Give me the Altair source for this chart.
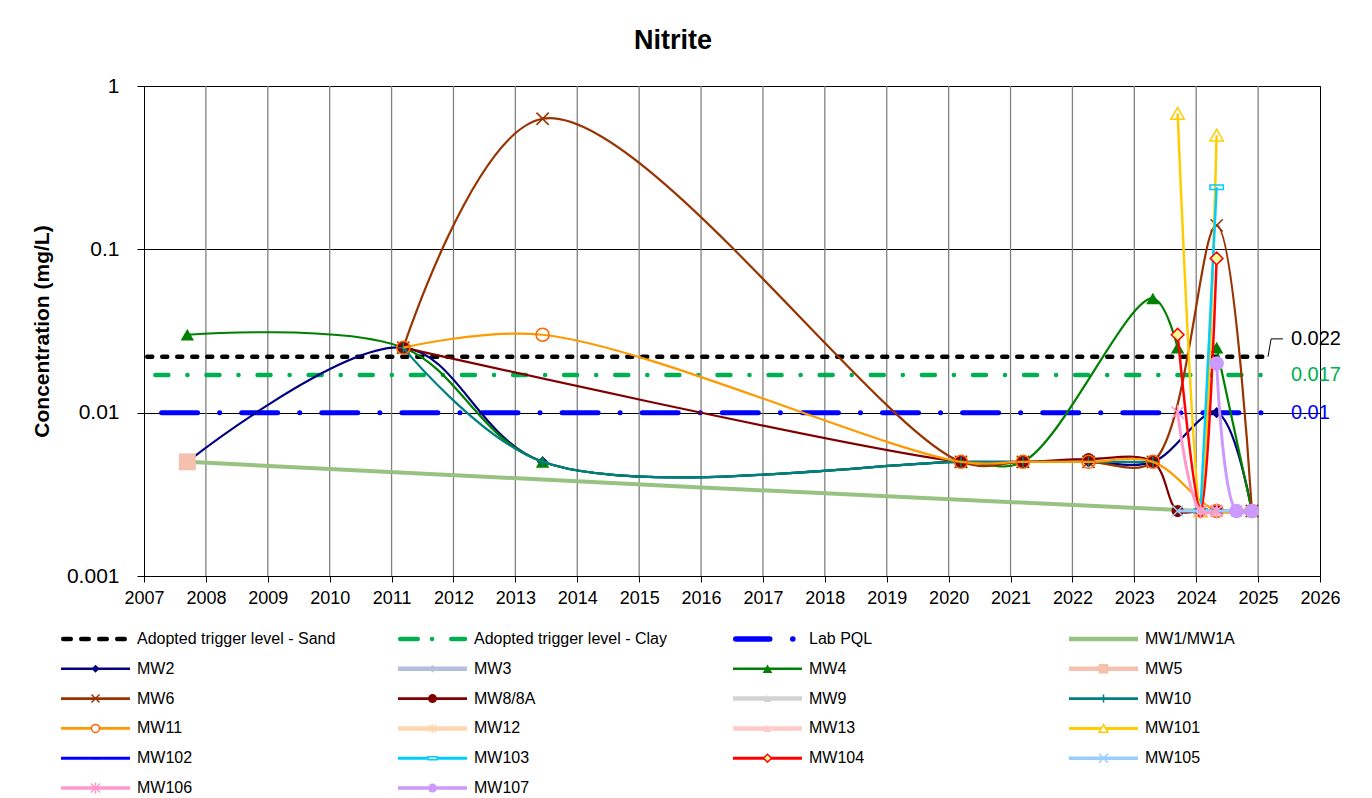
import altair as alt
import pandas as pd

FONT = "Liberation Sans"

# ---------------- data ----------------
YEARS = list(range(2007, 2027))
GRID_YEARS = list(range(2008, 2026))
Y_TICKS = [0.001, 0.01, 0.1, 1]

SAND = 0.022
CLAY = 0.017
PQL = 0.01
TRIGGER_X = [2007.0, 2025.16]
LABEL_X = 2025.53
LEADER_X = [2025.16, 2025.21, 2025.40]
LEADER_Y = [0.022, 0.0283, 0.0283]

MW1_X = [2007.7, 2024.07, 2024.33, 2024.65, 2024.9]
MW1_Y = [0.005, 0.0025, 0.0025, 0.0025, 0.0025]
MW2_X = [2007.7, 2011.19, 2013.44, 2020.2, 2021.2, 2022.26, 2023.3, 2024.33, 2024.9]
MW2_Y = [0.005, 0.025, 0.005, 0.005, 0.005, 0.005, 0.005, 0.01, 0.0025]
MW3_X = [2024.07, 2024.33]
MW3_Y = [0.0025, 0.0025]
MW4_X = [2007.7, 2011.19, 2013.44, 2020.2, 2021.2, 2023.3, 2023.7, 2024.33, 2024.9]
MW4_Y = [0.03, 0.025, 0.005, 0.005, 0.005, 0.05, 0.025, 0.025, 0.0025]
MW4_SEG = [0, 0, 0, 0, 0, 0, 0, 1, 1]
MW5_X = [2007.7]
MW5_Y = [0.005]
MW6_X = [2011.19, 2013.44, 2020.2, 2021.2, 2022.26, 2023.3, 2024.33, 2024.9]
MW6_Y = [0.025, 0.63, 0.005, 0.005, 0.005, 0.005, 0.14, 0.0025]
MW8_X = [2011.19, 2020.2, 2021.2, 2022.26, 2023.3, 2023.7, 2024.07, 2024.33]
MW8_Y = [0.025, 0.005, 0.005, 0.0052, 0.005, 0.0025, 0.0025, 0.0025]
MW9_X = [2024.07, 2024.33]
MW9_Y = [0.0025, 0.0025]
MW10_X = [2011.19, 2013.44, 2020.2, 2021.2, 2022.26, 2023.3]
MW10_Y = [0.025, 0.005, 0.005, 0.005, 0.005, 0.005]
MW11_X = [2011.19, 2013.44, 2020.2, 2021.2, 2022.26, 2023.3, 2024.33, 2024.9]
MW11_Y = [0.025, 0.03, 0.005, 0.005, 0.005, 0.005, 0.0025, 0.0025]
MW12_X = [2024.07, 2024.33]
MW12_Y = [0.0025, 0.0025]
MW13_X = [2024.07, 2024.33]
MW13_Y = [0.0025, 0.0025]
MW101_X = [2023.7, 2024.07, 2024.33]
MW101_Y = [0.68, 0.0025, 0.5]
MW102_X = [2024.07, 2024.33]
MW102_Y = [0.0025, 0.0025]
MW103_X = [2024.07, 2024.33]
MW103_Y = [0.0025, 0.24]
MW104_X = [2023.7, 2024.07, 2024.33]
MW104_Y = [0.03, 0.0025, 0.088]
MW105_X = [2023.7, 2024.07, 2024.33, 2024.65]
MW105_Y = [0.0025, 0.0025, 0.0025, 0.0025]
MW106_X = [2023.7, 2024.07, 2024.33]
MW106_Y = [0.01, 0.0025, 0.0025]
MW107_X = [2024.33, 2024.65, 2024.9]
MW107_Y = [0.02, 0.0025, 0.0025]

SERIES = [
    ("MW1/MW1A", MW1_X, MW1_Y, None),
    ("MW2", MW2_X, MW2_Y, None),
    ("MW3", MW3_X, MW3_Y, None),
    ("MW4", MW4_X, MW4_Y, MW4_SEG),
    ("MW5", MW5_X, MW5_Y, None),
    ("MW6", MW6_X, MW6_Y, None),
    ("MW8/8A", MW8_X, MW8_Y, None),
    ("MW9", MW9_X, MW9_Y, None),
    ("MW10", MW10_X, MW10_Y, None),
    ("MW11", MW11_X, MW11_Y, None),
    ("MW12", MW12_X, MW12_Y, None),
    ("MW13", MW13_X, MW13_Y, None),
    ("MW101", MW101_X, MW101_Y, None),
    ("MW102", MW102_X, MW102_Y, None),
    ("MW103", MW103_X, MW103_Y, None),
    ("MW104", MW104_X, MW104_Y, None),
    ("MW105", MW105_X, MW105_Y, None),
    ("MW106", MW106_X, MW106_Y, None),
    ("MW107", MW107_X, MW107_Y, None),
]

# ---------------- styles ----------------
X_PATH = "M-1,-1L1,1M-1,1L1,-1"
PLUS_PATH = "M-1,0L1,0M0,-1L0,1"
STAR_PATH = "M-1,-1L1,1M-1,1L1,-1M0,-1.25L0,1.25"
DASH_PATH = "M-1,-0.35L1,-0.35L1,0.35L-1,0.35Z"

# color, line width, shape, size, legend size, mode, marker fill, marker stroke
STYLE = {
    "MW1/MW1A": ("#98C282", 4.0, None, 0, 0, "none", None, None),
    "MW2": ("#000080", 2.2, "diamond", 130, 64, "fill", None, None),
    "MW3": ("#B4BFDE", 4.0, "diamond", 120, 56, "fill", None, None),
    "MW4": ("#008000", 2.2, "triangle-up", 180, 95, "fill", None, None),
    "MW5": ("#F5C1AF", 4.0, "square", 289, 95, "fill", None, None),
    "MW6": ("#993300", 2.2, X_PATH, 150, 64, "path", None, None),
    "MW8/8A": ("#800000", 2.2, "circle", 150, 81, "fill", None, None),
    "MW9": ("#D3D3D3", 4.0, "triangle-up", 150, 64, "fill", None, None),
    "MW10": ("#008080", 2.2, PLUS_PATH, 110, 64, "path", None, None),
    "MW11": ("#FF9900", 2.2, "circle", 170, 64, "open", None, "#FF6600"),
    "MW12": ("#FCD7B0", 4.0, STAR_PATH, 110, 56, "path", None, None),
    "MW13": ("#FFCACA", 4.0, "triangle-up", 150, 64, "fill", None, None),
    "MW101": ("#FFCC00", 2.5, "triangle-up", 180, 81, "open", None, "#FFCC00"),
    "MW102": ("#0000FF", 2.5, DASH_PATH, 100, 25, "fill", None, None),
    "MW103": ("#00CCFF", 2.5, DASH_PATH, 180, 81, "open", None, "#00CCFF"),
    "MW104": ("#FF0000", 2.5, "diamond", 160, 64, "open", "#FFFF99", "#FF0000"),
    "MW105": ("#99CCFF", 3.0, X_PATH, 110, 81, "path", None, None),
    "MW106": ("#FF99CC", 3.0, STAR_PATH, 150, 81, "path", None, None),
    "MW107": ("#CC99FF", 3.0, "circle", 210, 81, "fill", None, None),
}

X_AXIS = alt.Axis(values=YEARS, format="d", grid=False, domainColor="black",
                  tickColor="black", tickSize=6, labelFontSize=18, labelFont=FONT,
                  labelColor="black", labelPadding=7, title=None, labelFlush=False,
                  labelOverlap=False)
Y_AXIS = alt.Axis(values=Y_TICKS, format="~g", grid=True, gridColor="black", gridWidth=1,
                  domainColor="black", tickColor="black", tickSize=7, labelFontSize=21,
                  labelFont=FONT, labelColor="black", labelPadding=18,
                  title="Concentration (mg/L)", titleFont=FONT, titleFontSize=21,
                  titleFontWeight="bold", titleColor="black", titlePadding=14,
                  labelFlush=False)
X_SCALE = alt.Scale(domain=[2007, 2026], nice=False, zero=False)
Y_SCALE = alt.Scale(type="log", domain=[0.001, 1], nice=False)


def X():
    return alt.X("date:Q", scale=X_SCALE, axis=X_AXIS)


def Y():
    return alt.Y("value:Q", scale=Y_SCALE, axis=Y_AXIS)


layers = []

# vertical grid lines
grid_df = pd.DataFrame({"date": GRID_YEARS})
layers.append(alt.Chart(grid_df).mark_rule(color="#808080", strokeWidth=1.3).encode(x=X()))

# trigger lines
TRIGGERS = [
    (SAND, "black", 4.5, [5, 10], 11.75),
    (CLAY, "#00B050", 4.5, [13, 19, 0.1, 19], 39.75),
    (PQL, "#0000FF", 5.0, [36, 22, 0.1, 22], 62.5),
]
for val, col, w, dash, off in TRIGGERS:
    df = pd.DataFrame({"date": TRIGGER_X, "value": [val, val]})
    layers.append(alt.Chart(df).mark_line(color=col, strokeWidth=w, strokeDash=dash,
                                          strokeDashOffset=off, strokeCap="round").encode(x=X(), y=Y()))

# series
for name, xs, ys, seg in SERIES:
    color, w, shape, size, lsize, mode, mfill, mstroke = STYLE[name]
    df = pd.DataFrame({"date": xs, "value": ys, "seg": seg if seg else [0] * len(xs)})
    if len(xs) > 1:
        layers.append(alt.Chart(df).mark_line(color=color, strokeWidth=w, interpolate="catmull-rom",
                                              strokeCap="butt").encode(x=X(), y=Y(), detail="seg:N"))
    if shape is None:
        continue
    if mode == "fill":
        pm = alt.Chart(df).mark_point(shape=shape, size=size, filled=True, color=color, opacity=1)
    elif mode == "open":
        kw = dict(shape=shape, size=size, stroke=mstroke, strokeWidth=1.5, opacity=1)
        if mfill:
            pm = alt.Chart(df).mark_point(filled=True, fill=mfill, **kw)
        else:
            pm = alt.Chart(df).mark_point(filled=False, **kw)
    else:
        pm = alt.Chart(df).mark_point(shape=shape, size=size, filled=False, stroke=color,
                                      strokeWidth=1.5, opacity=1)
    layers.append(pm.encode(x=X(), y=Y()))

# trigger labels
LABELS = [("0.022", SAND, "black", -18), ("0.017", CLAY, "#00B050", 0), ("0.01", PQL, "#0000FF", 0)]
for txt, val, col, dy in LABELS:
    df = pd.DataFrame({"date": [LABEL_X], "value": [val], "t": [txt]})
    layers.append(alt.Chart(df).mark_text(align="left", baseline="middle", fontSize=20, font=FONT,
                                          color=col, dy=dy).encode(x=X(), y=Y(), text="t:N"))
leader_df = pd.DataFrame({"date": LEADER_X, "value": LEADER_Y})
layers.append(alt.Chart(leader_df).mark_line(color="black", strokeWidth=1).encode(x=X(), y=Y()))

main = alt.layer(*layers).properties(
    width=1176, height=490,
    title=alt.TitleParams("Nitrite", fontSize=27, font=FONT, fontWeight="bold", color="black",
                          anchor="middle", dx=-59, offset=20),
    view=alt.ViewBackground(stroke="black", strokeWidth=1),
)

# ---------------- legend ----------------
LEGEND_NAMES = ["Adopted trigger level - Sand", "Adopted trigger level - Clay", "Lab PQL"] + [s[0] for s in SERIES]
COL_X = [-83, 254, 589, 925]
SW_LEN = 69
ROW_SCALE = alt.Scale(type="point", domain=list(range(6)), padding=0.5)
LEG_TRIG = {
    "Adopted trigger level - Sand": ("black", 4.5, [7.5, 10.5], 2.25, 67),
    "Adopted trigger level - Clay": ("#00B050", 4.5, [17.5, 14.25, 0.1, 19.15], 2.25, 67),
    "Lab PQL": ("#0000FF", 5.5, [34, 23, 0.1, 30], 2.75, 60),
}
leg_layers = []
for i, name in enumerate(LEGEND_NAMES):
    cx = COL_X[i % 4]
    row = i // 4
    df = pd.DataFrame({"row": [row], "t": [name]})
    yenc = alt.Y("row:O", scale=ROW_SCALE, axis=None)
    if name in LEG_TRIG:
        col, w, dash, a, b = LEG_TRIG[name]
        leg_layers.append(alt.Chart(df).mark_rule(color=col, strokeWidth=w, strokeDash=dash,
                                                  strokeCap="round").encode(
            x=alt.value(cx + a), x2=alt.value(cx + b), y=yenc))
    else:
        color, w, shape, size, lsize, mode, mfill, mstroke = STYLE[name]
        leg_layers.append(alt.Chart(df).mark_rule(color=color, strokeWidth=w + 0.5).encode(
            x=alt.value(cx), x2=alt.value(cx + SW_LEN), y=yenc))
        if shape is not None:
            if mode == "fill":
                pm = alt.Chart(df).mark_point(shape=shape, size=lsize, filled=True, color=color, opacity=1)
            elif mode == "open":
                kw = dict(shape=shape, size=lsize, stroke=mstroke, strokeWidth=1.5, opacity=1)
                if mfill:
                    pm = alt.Chart(df).mark_point(filled=True, fill=mfill, **kw)
                else:
                    pm = alt.Chart(df).mark_point(filled=False, fill="white", **kw)
            else:
                pm = alt.Chart(df).mark_point(shape=shape, size=lsize, filled=False, stroke=color,
                                              strokeWidth=1.5, opacity=1)
            leg_layers.append(pm.encode(x=alt.value(cx + SW_LEN / 2), y=yenc))
    leg_layers.append(alt.Chart(df).mark_text(align="left", baseline="middle", fontSize=16,
                                              font=FONT, color="black").encode(
        x=alt.value(cx + 76), y=yenc, text="t:N"))

legend = alt.layer(*leg_layers).properties(width=1176, height=179)

chart = alt.vconcat(main, legend, spacing=15).properties(
    padding={"left": 22, "top": 18, "right": 0, "bottom": 0},
    background="white",
).configure_view(stroke="transparent")

chart.save("out.html", embed_options={"renderer": "svg", "actions": False})
